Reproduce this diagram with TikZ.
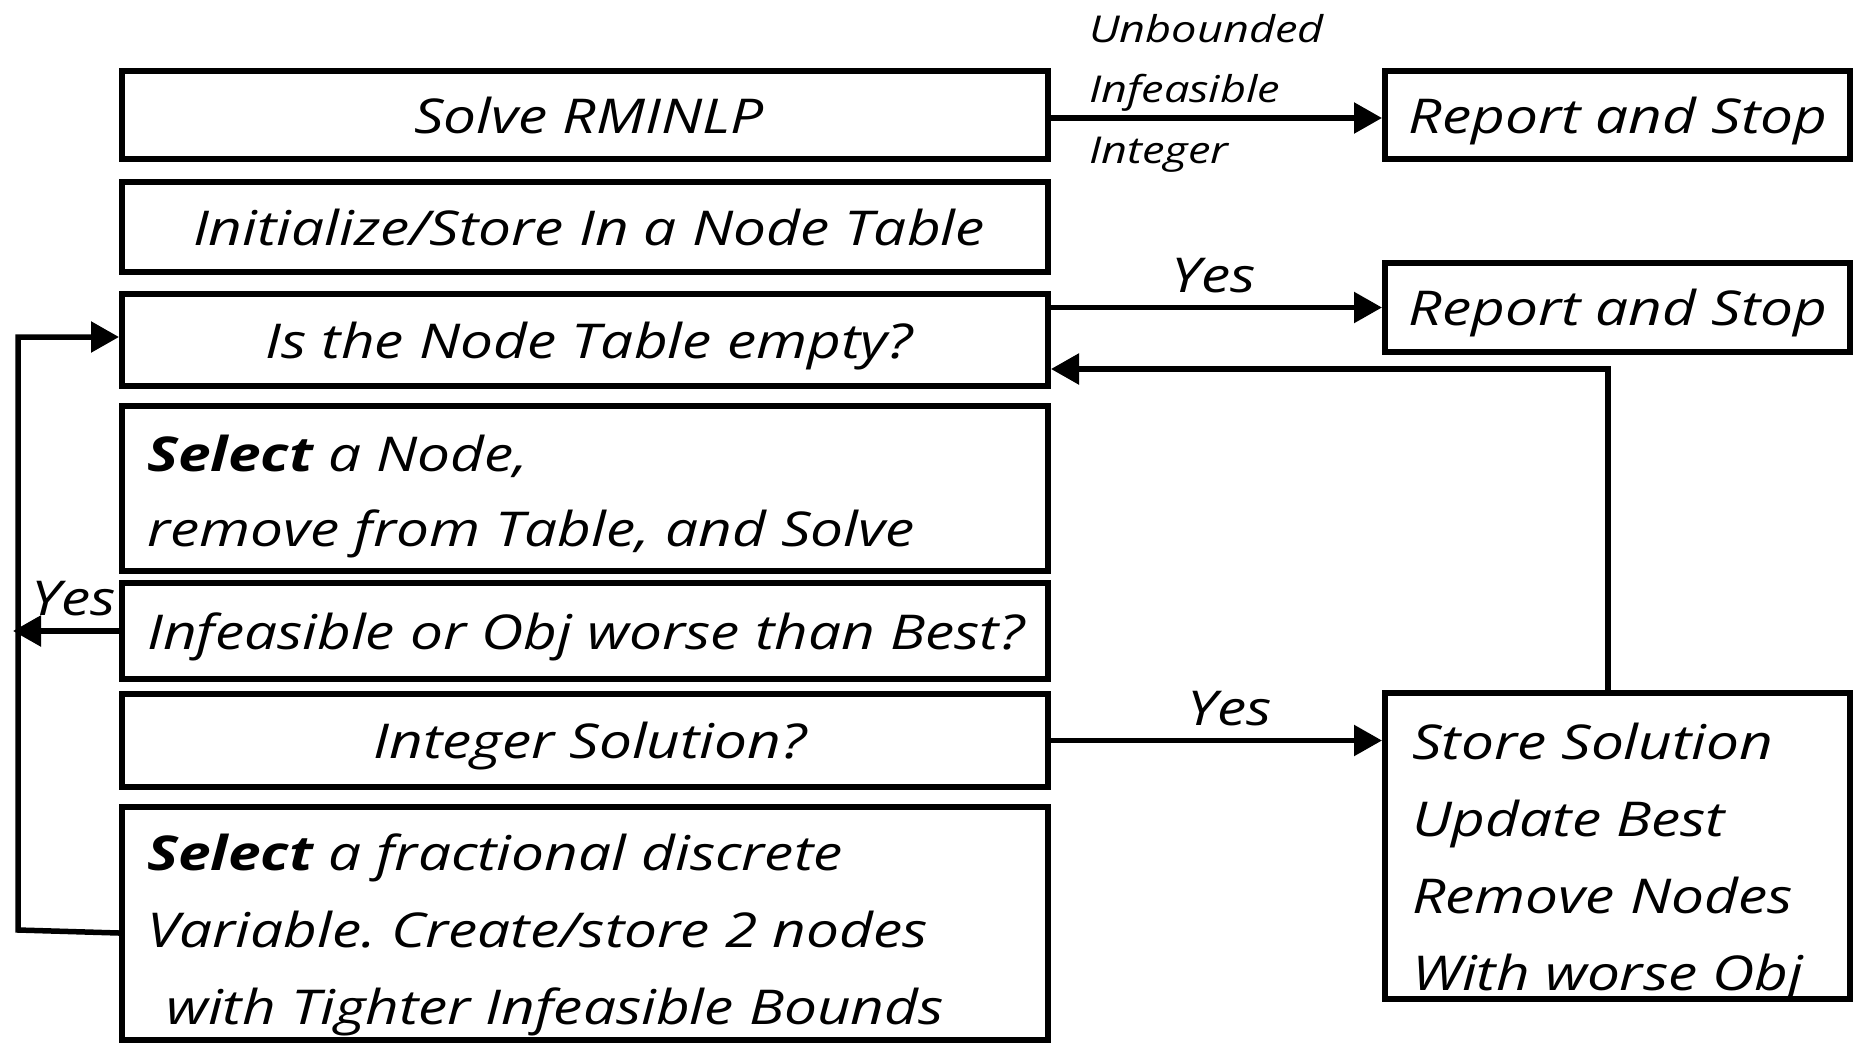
\documentclass[tikz,border=0pt]{standalone}
\usepackage{fontspec}
\setmainfont{Open Sans}[FakeStretch=1.22]
\usetikzlibrary{arrows.meta}
\frenchspacing
\begin{document}
\begin{tikzpicture}[x=1pt,y=-1pt,
  box/.style={draw=black,line width=6pt,rectangle,inner sep=0pt,minimum width=926pt},
  rbox/.style={draw=black,line width=6pt,rectangle,inner sep=0pt,minimum width=465pt},
  txt/.style={font=\fontsize{48}{58}\selectfont\itshape,inner sep=0pt},
  lbl/.style={font=\fontsize{37}{44}\selectfont\itshape,inner sep=0pt,anchor=base west},
  conn/.style={line width=5.5pt,-{Triangle[length=28pt,width=30pt]}},
  plain/.style={line width=5.5pt}]
\useasboundingbox (0,0) rectangle (1854,1044);
% boxes
\node[box,minimum height=88.5pt] (b1) at (585,114.75) {};
\node[box,minimum height=90pt] (b2) at (585,227) {};
\node[box,minimum height=92pt] (b3) at (585,340) {};
\node[box,minimum height=165pt] (b4) at (585,488.5) {};
\node[box,minimum height=96pt] (b5) at (585,631) {};
\node[box,minimum height=93pt] (b6) at (585,740.5) {};
\node[box,minimum height=233pt] (b7) at (585,923.5) {};
\node[rbox,minimum height=88pt] (r1) at (1617.5,115) {};
\node[rbox,minimum height=89pt] (r2) at (1617.5,307.5) {};
\node[rbox,minimum height=306pt] (s) at (1617.5,846) {};
% texts
\node[txt,anchor=base] (t1) at (589,133) {Solve RMINLP};
\node[txt,anchor=base] (t2) at (589,245) {Initialize/Store In a Node Table};
\node[txt,anchor=base] (t3) at (589,358) {Is the Node Table empty?};
\node[txt,anchor=base west] (t4a) at (147,471) {\textbf{Select} a Node,};
\node[txt,anchor=base west] (t4b) at (147,546) {remove from Table, and Solve};
\node[txt,anchor=base west] (t5) at (147,649) {Infeasible or Obj worse than Best?};
\node[txt,anchor=base] (t6) at (590,758) {Integer Solution?};
\node[txt,anchor=base west] (t7a) at (147,870) {\textbf{Select} a fractional discrete};
\node[txt,anchor=base west] (t7b) at (147,947) {Variable. Create/store 2 nodes};
\node[txt,anchor=base west] (t7c) at (166,1024) {with Tighter Infeasible Bounds};
\node[txt,anchor=base] (tr1) at (1618,133) {Report and Stop};
\node[txt,anchor=base] (tr2) at (1618,325) {Report and Stop};
\node[txt,anchor=base west] (ts1) at (1412,759) {Store Solution};
\node[txt,anchor=base west] (ts2) at (1412,836) {Update Best};
\node[txt,anchor=base west] (ts3) at (1412,913) {Remove Nodes};
\node[txt,anchor=base west] (ts4) at (1412,990) {With worse Obj};
% labels
\node[lbl] (u1) at (1089,42) {Unbounded};
\node[lbl] (u2) at (1089,102) {Infeasible};
\node[lbl] (u3) at (1089,163) {Integer};
\node[txt,anchor=base] (y1) at (1214,292) {Yes};
\node[txt,anchor=base] (y2) at (1230,725) {Yes};
\node[txt,anchor=base] (y3) at (74,615) {Yes};
% coordinates
\coordinate (a1) at (1048,118);
\coordinate (fb) at (1608,369);
\coordinate (lyes) at (13,631);
\coordinate (lbot) at (18,930);
\coordinate (ltop) at (18,337);
% connectors
\draw[conn] (b1.east |- a1) -- (r1.west |- a1);
\draw[conn] (b3.east |- r2.west) -- (r2.west);
\draw[conn] (s.north -| fb) -- (fb) -- (b3.east |- fb);
\draw[conn] (b6.east) -- (b6.east -| s.west);
\draw[conn] (b5.west) -- (lyes);
\draw[conn,line join=miter] (b7.west |- 0,933) -- (lbot) -- (ltop) -- (b3.west |- ltop);
\end{tikzpicture}
\end{document}
